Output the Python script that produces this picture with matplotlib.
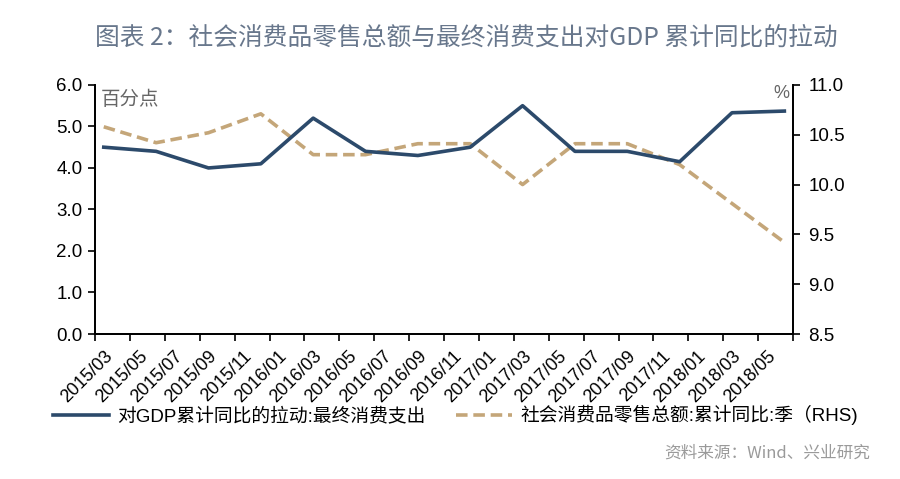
import pandas as pd
import matplotlib
matplotlib.use('Agg')
import matplotlib.pyplot as plt

plt.rcParams['font.family'] = ['Liberation Sans', 'Noto Sans CJK SC', 'DejaVu Sans']

# quarterly data points
dates = ['2015/03', '2015/06', '2015/09', '2015/12', '2016/03', '2016/06', '2016/09',
         '2016/12', '2017/03', '2017/06', '2017/09', '2017/12', '2018/03', '2018/06']
gdp_pull = [4.5, 4.4, 4.0, 4.1, 5.2, 4.4, 4.3, 4.5, 5.5, 4.4, 4.4, 4.15, 5.33, 5.37]
retail_yoy = [10.58, 10.42, 10.52, 10.71, 10.3, 10.3, 10.41, 10.41, 10.0, 10.41, 10.41, 10.2, 9.81, 9.42]

# category axis: monthly from 2015/03 to 2018/06
start_month = '2015/03'
end_month = '2018/06'
tick_labels = ['2015/03', '2015/05', '2015/07', '2015/09', '2015/11', '2016/01', '2016/03',
               '2016/05', '2016/07', '2016/09', '2016/11', '2017/01', '2017/03', '2017/05',
               '2017/07', '2017/09', '2017/11', '2018/01', '2018/03', '2018/05']

legend_left = '对GDP累计同比的拉动:最终消费支出'
legend_right = '社会消费品零售总额:累计同比:季（RHS)'


def month_pos(s):
    # category centre position in months from the start of the axis
    p = pd.Period(s, freq='M') - pd.Period(start_month, freq='M')
    return p.n + 0.5


n_months = (pd.Period(end_month, freq='M') - pd.Period(start_month, freq='M')).n + 1
x = [month_pos(d) for d in dates]

blue = '#2c4a6b'
tan = '#c4a679'

fig = plt.figure(figsize=(9, 4.79), dpi=100)
ax = fig.add_axes([0.1056, 0.3027, 0.7756, 0.52])
ax2 = ax.twinx()

line1, = ax.plot(x, gdp_pull, color=blue, lw=2.6, zorder=3)
line2, = ax2.plot(x, retail_yoy, color=tan, lw=2.6, ls=(0, (3.2, 1.6)), zorder=2)
ax.set_zorder(ax2.get_zorder() + 1)
ax.patch.set_visible(False)

ax.set_xlim(0, n_months)
ax.set_ylim(0, 6)
ax2.set_ylim(8.5, 11)
ax.set_yticks([0, 1, 2, 3, 4, 5, 6])
ax.set_yticklabels([f'{v:.1f}' for v in ax.get_yticks()])
ax2.set_yticks([8.5, 9.0, 9.5, 10.0, 10.5, 11.0])
ax2.set_yticklabels([f'{v:.1f}' for v in ax2.get_yticks()])

# ticks at every 2 months, labels at category centres
ax.set_xticks(range(0, n_months + 1, 2))
ax.set_xticklabels([])
ax.set_xticks([month_pos(t) for t in tick_labels], minor=True)
ax.set_xticklabels(tick_labels, minor=True, rotation=45, ha='right',
                   rotation_mode='anchor', fontsize=13)
ax.tick_params(axis='x', which='minor', length=0, pad=10)
ax.tick_params(axis='x', which='major', length=5, width=1.2, direction='out')

ax.tick_params(axis='y', length=5, width=1.2, labelsize=13.5, pad=4)
ax2.tick_params(axis='y', length=5, width=1.2, labelsize=13.5, pad=6)

for a in (ax, ax2):
    a.spines['top'].set_visible(False)
    for s in ('left', 'right', 'bottom'):
        a.spines[s].set_linewidth(1.3)
        a.spines[s].set_color('black')

ax.text(0.008, 0.975, '百分点', transform=ax.transAxes, fontsize=14,
        color='#666666', va='top', ha='left')
ax.text(0.995, 1.0, '%', transform=ax.transAxes, fontsize=13,
        color='#666666', va='top', ha='right')

fig.text(0.518, 0.922, '图表 2：社会消费品零售总额与最终消费支出对GDP 累计同比的拉动',
         ha='center', va='center', fontsize=17.8, color='#68778c',
         family=['Noto Sans CJK SC', 'DejaVu Sans'], fontweight='medium')

fig.legend([line1, line2], [legend_left, legend_right], loc='center',
           bbox_to_anchor=(0.506, 0.133), ncol=2, frameon=False, fontsize=13.5,
           handlelength=3.0, columnspacing=1.6, handletextpad=0.45)

fig.text(0.967, 0.055, '资料来源：Wind、兴业研究', ha='right', va='center',
         fontsize=12, color='#9a9a9a', family=['Noto Sans CJK SC', 'DejaVu Sans'])

fig.savefig('out.png', dpi=100)
